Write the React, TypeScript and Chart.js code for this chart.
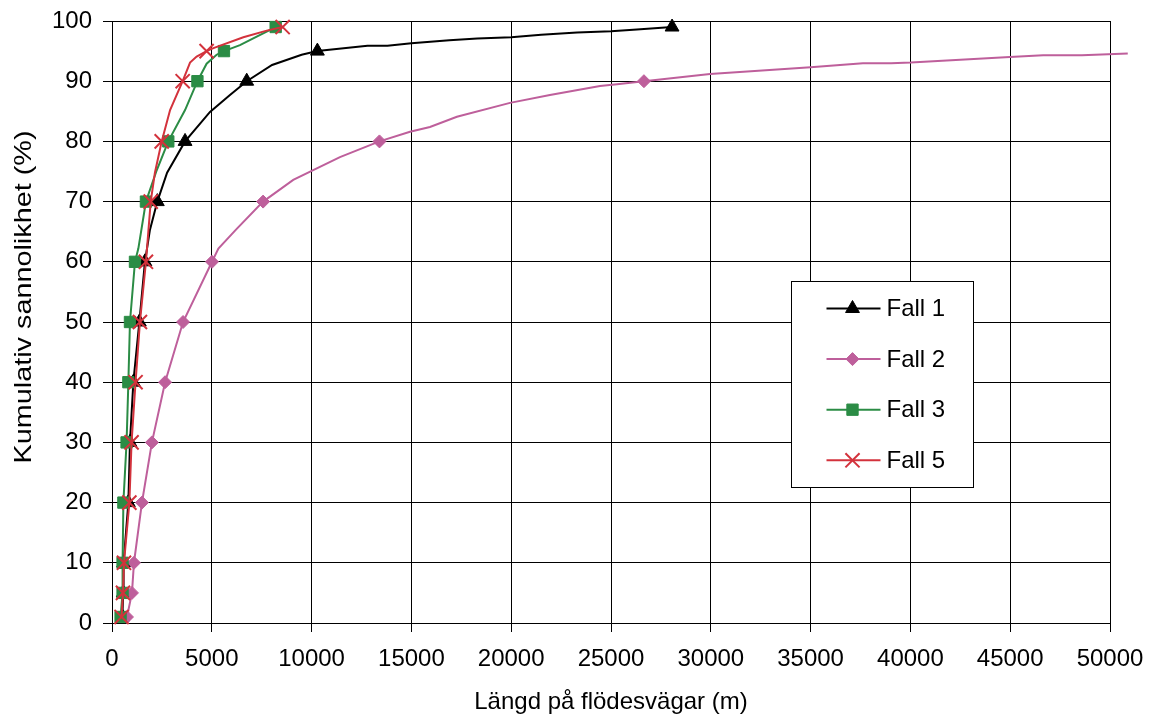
import React, { useEffect, useRef } from 'react';
import { Chart, registerables } from 'chart.js';
import { drawPoint } from 'chart.js/helpers';

Chart.register(...registerables);

const FONT_FAMILY = "'Liberation Sans', Arial, sans-serif";

const SERIES_NAMES = ['Fall 1', 'Fall 2', 'Fall 3', 'Fall 5'];
const MARKER_LEVELS = [1, 5, 10, 20, 30, 40, 50, 60, 70, 80, 90, 95, 99];

const X_TICKS = [0, 5000, 10000, 15000, 20000, 25000, 30000, 35000, 40000, 45000, 50000];
const Y_TICKS = [0, 10, 20, 30, 40, 50, 60, 70, 80, 90, 100];

const X_TITLE = 'Längd på flödesvägar (m)';
const Y_TITLE = 'Kumulativ sannolikhet (%)';

// Fall 1
const fall1X = [520, 560, 580, 820, 900, 1070, 1370, 1650, 1900, 2270, 2760, 3660, 4910, 5910, 6750, 8020, 9500, 10290, 12800, 13800, 15000, 16900, 18300, 20000, 21500, 23300, 25000, 26300, 28060];
const fall1Y = [1, 5, 10, 20, 30, 40, 50, 60, 65.3, 70, 74.8, 80, 84.9, 87.7, 90, 92.7, 94.4, 95, 95.9, 95.9, 96.3, 96.8, 97.1, 97.3, 97.7, 98.1, 98.3, 98.6, 99];

// Fall 2
const fall2X = [750, 1000, 1100, 1500, 2000, 2660, 3560, 5010, 5330, 6200, 7570, 9080, 11420, 13400, 14930, 15930, 17280, 19940, 21940, 24450, 25300, 26650, 29960, 35000, 37620, 39030, 40020, 44980, 46650, 48590, 50890];
const fall2Y = [1, 5, 10, 20, 30, 40, 50, 60, 62.2, 65.3, 70, 73.6, 77.4, 80, 81.6, 82.4, 84.1, 86.4, 87.7, 89.2, 89.5, 90, 91.2, 92.3, 93.0, 93.0, 93.1, 94.0, 94.3, 94.3, 94.6];

// Fall 3
const fall3X = [430, 530, 530, 570, 730, 820, 900, 1150, 1320, 1700, 2240, 2820, 3660, 4280, 4740, 5240, 5610, 6410, 7250, 8200];
const fall3Y = [1, 5, 10, 20, 30, 40, 50, 60, 62.2, 70, 75.2, 80, 85.2, 90, 92.9, 94.4, 95, 96.0, 97.4, 99];

// Fall 5
const fall5X = [480, 550, 600, 870, 980, 1180, 1400, 1700, 1940, 2150, 2490, 2910, 3540, 3910, 4240, 4740, 5080, 6580, 7750, 8550];
const fall5Y = [1, 5, 10, 20, 30, 40, 50, 60, 70, 74.8, 80, 85.2, 90, 93.1, 94.1, 95, 95.5, 97.3, 98.4, 99];

const SERIES_X = [fall1X, fall2X, fall3X, fall5X];
const SERIES_Y = [fall1Y, fall2Y, fall3Y, fall5Y];
const SERIES_COLORS = ['#000000', '#BE5F9B', '#2B8C45', '#D3323C'];
const SERIES_STYLES = ['triangle', 'rectRot', 'rect', 'crossRot'];
const SERIES_RADII = [8, 6.5, 8, 10];
const SERIES_POINT_BORDER = [1, 1, 1, 2];

const legendPlugin = {
  id: 'boxLegend',
  afterDatasetsDraw(chart: any) {
    const ctx = chart.ctx;
    const { left, top } = chart.chartArea;
    const bx = Math.round(left + 679) + 0.5;
    const by = Math.round(top + 260) + 0.5;
    const bw = 182;
    const bh = 206;
    ctx.save();
    ctx.fillStyle = '#ffffff';
    ctx.fillRect(bx, by, bw, bh);
    ctx.strokeStyle = '#000000';
    ctx.lineWidth = 1;
    ctx.strokeRect(bx, by, bw, bh);
    chart.data.datasets.forEach((ds: any, i: number) => {
      const y = by + 27 + i * 50.6;
      ctx.strokeStyle = ds.borderColor;
      ctx.lineWidth = 2;
      ctx.beginPath();
      ctx.moveTo(bx + 35, y);
      ctx.lineTo(bx + 89, y);
      ctx.stroke();
      ctx.fillStyle = ds.pointBackgroundColor;
      ctx.strokeStyle = ds.pointBorderColor;
      ctx.lineWidth = ds.pointBorderWidth;
      drawPoint(ctx, { pointStyle: ds.pointStyle, rotation: 0, radius: SERIES_RADII[i], borderWidth: ds.pointBorderWidth }, bx + 61, y);
      ctx.fillStyle = '#000000';
      ctx.font = `24px ${FONT_FAMILY}`;
      ctx.textBaseline = 'middle';
      ctx.textAlign = 'left';
      ctx.fillText(ds.label, bx + 95, y + 1);
    });
    ctx.restore();
  },
};

// Y-axis title, drawn slightly elongated along its reading direction as in the reference
const yTitlePlugin = {
  id: 'yTitle',
  afterDraw(chart: any) {
    const ctx = chart.ctx;
    const { top, bottom } = chart.chartArea;
    ctx.save();
    ctx.translate(24.5, (top + bottom) / 2 - 25);
    ctx.rotate(-Math.PI / 2);
    ctx.scale(1.2, 1);
    ctx.fillStyle = '#000000';
    ctx.font = `24px ${FONT_FAMILY}`;
    ctx.textAlign = 'center';
    ctx.textBaseline = 'middle';
    ctx.fillText(Y_TITLE, 0, 0);
    ctx.restore();
  },
};

export default function App() {
  const canvasRef = useRef<HTMLCanvasElement>(null);

  useEffect(() => {
    if (!canvasRef.current) return;
    const datasets = SERIES_NAMES.map((name, i) => ({
      label: name,
      data: SERIES_X[i].map((x, j) => ({ x, y: SERIES_Y[i][j] })),
      borderColor: SERIES_COLORS[i],
      backgroundColor: SERIES_COLORS[i],
      pointBackgroundColor: SERIES_COLORS[i],
      pointBorderColor: SERIES_COLORS[i],
      pointBorderWidth: SERIES_POINT_BORDER[i],
      pointStyle: SERIES_STYLES[i],
      pointRadius: (c: any) => (c.raw && MARKER_LEVELS.includes(c.raw.y) ? SERIES_RADII[i] : 0),
      borderWidth: 2,
      tension: 0,
      fill: false,
      clip: false,
      order: SERIES_NAMES.length - i,
    }));

    const chart = new Chart(canvasRef.current, {
      type: 'line',
      data: { datasets },
      plugins: [legendPlugin, yTitlePlugin],
      options: {
        animation: false,
        responsive: false,
        devicePixelRatio: 1,
        layout: { padding: { left: 0, right: 43, top: 21, bottom: 0 } },
        font: { family: FONT_FAMILY, size: 24 },
        plugins: {
          legend: { display: false },
          tooltip: { enabled: false },
        },
        scales: {
          x: {
            type: 'linear',
            min: X_TICKS[0],
            max: X_TICKS[X_TICKS.length - 1],
            afterBuildTicks: (scale: any) => {
              scale.ticks = X_TICKS.map((v) => ({ value: v }));
            },
            afterFit: (scale: any) => {
              scale.height = 97;
              scale.paddingLeft = 0;
              scale.paddingRight = 0;
            },
            ticks: {
              color: '#000',
              font: { family: FONT_FAMILY, size: 24 },
              padding: 13,
              maxRotation: 0,
              autoSkip: false,
              callback: (v: any) => String(v),
            },
            grid: { color: '#000', lineWidth: 1, tickLength: 9, drawTicks: true },
            border: { display: true, color: '#000', width: 1 },
            title: {
              display: true,
              text: X_TITLE,
              color: '#000',
              font: { family: FONT_FAMILY, size: 24 },
              padding: { top: 0, bottom: 3 },
            },
          },
          y: {
            type: 'linear',
            min: Y_TICKS[0],
            max: Y_TICKS[Y_TICKS.length - 1],
            afterBuildTicks: (scale: any) => {
              scale.ticks = Y_TICKS.map((v) => ({ value: v }));
            },
            afterFit: (scale: any) => {
              scale.width = 112;
              scale.paddingTop = 0;
              scale.paddingBottom = 0;
            },
            ticks: {
              color: '#000',
              font: { family: FONT_FAMILY, size: 24 },
              padding: 11,
              callback: (v: any) => String(v),
            },
            grid: { color: '#000', lineWidth: 1, tickLength: 9, drawTicks: true },
            border: { display: true, color: '#000', width: 1 },
            title: { display: false, text: Y_TITLE },
          },
        },
      } as any,
    });
    return () => chart.destroy();
  }, []);

  return (
    <div style={{ position: 'fixed', left: 0, top: 0, width: 1153, height: 720, background: '#fff' }}>
      <canvas ref={canvasRef} width={1153} height={720} />
    </div>
  );
}
